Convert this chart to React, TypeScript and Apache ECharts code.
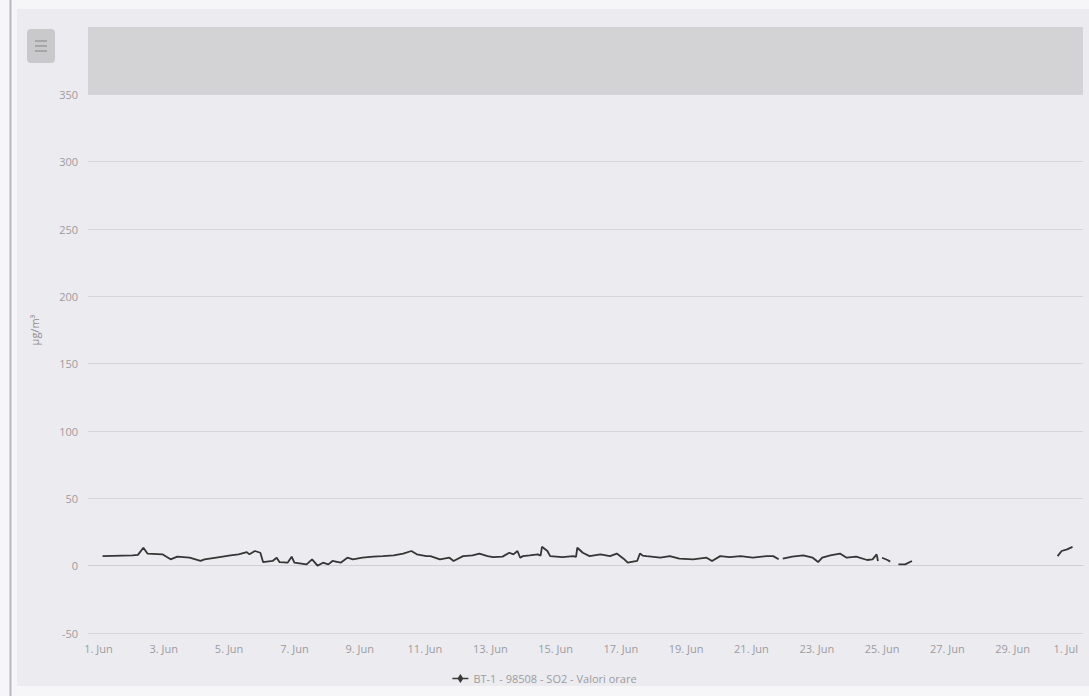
import React, { useEffect, useRef } from 'react';
import * as echarts from 'echarts';

const START = new Date(2020, 5, 1).getTime();
const HOUR = 3600000;
const MONTHS = ['Jan', 'Feb', 'Mar', 'Apr', 'May', 'Jun', 'Jul', 'Aug', 'Sep', 'Oct', 'Nov', 'Dec'];

const seriesName = 'BT-1 - 98508 - SO2 - Valori orare';
const yAxisTitle = 'µg/m³';

// [hours since 1 Jun 00:00, µg/m³] ; null = missing measurement (gap)
const so2Readings: [number, number | null][] = [
  [3, 7.1], [25, 7.6], [29, 8], [33, 13.3], [36, 9], [47, 8.4], [53, 4.7], [58, 6.7],
  [67, 5.9], [75, 3.5], [78, 4.7], [89, 6.4], [97, 7.6], [103, 8.4], [109, 10.1], [111, 8.4],
  [115, 10.9], [119, 9.6], [121, 2.7], [128, 3.5], [131, 5.9], [133, 2.7], [139, 2.2], [142, 6.7],
  [144, 2.2], [153, 1], [157, 4.7], [161, 0], [165, 2.2], [169, 1], [172, 3.5], [178, 2.2],
  [183, 5.9], [187, 4.7], [194, 5.9], [202, 6.7], [209, 7.1], [217, 7.6], [224, 8.9], [230, 10.9],
  [234, 8.4], [241, 7.1], [244, 7.1], [251, 4.7], [258, 5.9], [261, 3.5], [268, 7.1], [275, 7.6],
  [280, 9], [286, 7.1], [290, 6.4], [297, 6.7], [302, 9.6], [305, 8.4], [308, 10.9], [310, 5.9],
  [312, 7.1], [317, 7.6], [323, 8.4], [325, 7.4], [326, 14], [330, 10.9], [332, 7.1], [341, 6.4],
  [349, 7.1], [351, 6.5], [352, 13.3], [356, 9.6], [361, 7.1], [369, 8.4], [376, 7.1], [381, 9],
  [386, 5.2], [389, 2.2], [396, 3.5], [398, 9], [400, 7.5], [403, 7.1], [413, 5.9], [420, 7.1],
  [427, 5.2], [437, 4.7], [447, 5.9], [451, 3.5], [457, 7.1], [464, 6.4], [472, 7.1], [481, 5.9],
  [491, 7.1], [496, 7.1], [500, 4.7], [501, null], [503, 5.2], [510, 6.7], [518, 7.6], [525, 5.9],
  [529, 2.7], [532, 5.9], [538, 7.6], [545, 9], [550, 5.9], [557, 6.7], [565, 4.2], [569, 4.7],
  [572, 8.4], [573, 3.5], [574, null], [576, 5.9], [580, 4.2], [582, 3], [583, null], [588, 1],
  [593, 1], [598, 3.5], [599, null], [705, 7.1], [708, 10.9], [712, 12.1], [716, 14],
];

// tick positions in hours since 1 Jun 00:00 (every 2 days, 1 Jun .. 1 Jul)
const xTickHours = [0, 48, 96, 144, 192, 240, 288, 336, 384, 432, 480, 528, 576, 624, 672, 720];
const xMinHours = -7.7;
const xMaxHours = 723.7;
const yMin = -50;
const yMax = 400;
const yStep = 50;
const bandFrom = 350;
const bandTo = 400;

export default function App() {
  const ref = useRef<HTMLDivElement>(null);
  useEffect(() => {
    if (!ref.current) return;
    const chart = echarts.init(ref.current, null, { renderer: 'svg' });
    const data = so2Readings.map(([h, v]) => [h, v === null ? '-' : v]);
    const font = "'Open Sans', 'DejaVu Sans', sans-serif";
    chart.setOption({
      animation: false,
      backgroundColor: '#f6f6f9',
      graphic: [
        { type: 'rect', shape: { x: 17, y: 9, width: 1072, height: 677 }, style: { fill: '#ecebf0' }, z: -10 },
        { type: 'line', shape: { x1: 10.5, y1: 0, x2: 10.5, y2: 696 }, style: { stroke: '#b8b8bc', lineWidth: 2 }, z: -9 },
        { type: 'rect', shape: { x: 27, y: 29, width: 28, height: 34, r: 4 }, style: { fill: '#c9c9cc' }, z: 5 },
        { type: 'line', shape: { x1: 35, y1: 41, x2: 47, y2: 41 }, style: { stroke: '#9a9a9e', lineWidth: 1.5 }, z: 6 },
        { type: 'line', shape: { x1: 35, y1: 46, x2: 47, y2: 46 }, style: { stroke: '#9a9a9e', lineWidth: 1.5 }, z: 6 },
        { type: 'line', shape: { x1: 35, y1: 51, x2: 47, y2: 51 }, style: { stroke: '#9a9a9e', lineWidth: 1.5 }, z: 6 },
      ],
      grid: { left: 88, right: 6, top: 27, bottom: 63, containLabel: false },
      legend: {
        bottom: 7,
        left: 'center',
        itemWidth: 16,
        itemHeight: 9,
        itemGap: 10,
        icon: 'path://M0,4.2 L5.5,4.2 L8,0.5 L10.5,4.2 L16,4.2 L16,5.8 L10.5,5.8 L8,9.5 L5.5,5.8 L0,5.8 Z',
        textStyle: { color: '#9c9ca0', fontSize: 11, fontFamily: font },
        data: [{ name: seriesName, itemStyle: { color: '#3a3a3a' } }],
      },
      xAxis: {
        type: 'value',
        min: xMinHours,
        max: xMaxHours,
        axisLine: { show: true, lineStyle: { color: '#d0d0d4' } },
        axisTick: { show: false },
        splitLine: { show: false },
        axisLabel: {
          customValues: xTickHours,
          showMinLabel: true,
          showMaxLabel: true,
          alignMaxLabel: 'right',
          color: '#9c9ca0',
          fontSize: 11,
          fontFamily: font,
          margin: 10,
          hideOverlap: false,
          formatter: (val: number) => {
            const d = new Date(START + val * HOUR);
            return `${d.getDate()}. ${MONTHS[d.getMonth()]}`;
          },
        },
      },
      yAxis: {
        type: 'value',
        min: yMin,
        max: yMax,
        interval: yStep,
        name: yAxisTitle,
        nameLocation: 'middle',
        nameGap: 48,
        nameRotate: 90,
        nameTextStyle: { color: '#8e8e92', fontSize: 11, fontFamily: font },
        axisLine: { show: false },
        axisTick: { show: false },
        splitLine: { show: true, lineStyle: { color: '#d6d6da', width: 1 } },
        axisLabel: {
          color: '#9c9ca0',
          fontSize: 11,
          fontFamily: font,
          margin: 10,
          formatter: (v: number) => (v === yMax ? '' : String(v)),
        },
      },
      series: [
        {
          name: seriesName,
          type: 'line',
          data,
          showSymbol: false,
          symbol: 'none',
          connectNulls: false,
          lineStyle: { color: '#353535', width: 1.8 },
          itemStyle: { color: '#353535' },
          markArea: {
            silent: true,
            itemStyle: { color: '#d3d3d6' },
            data: [[{ yAxis: bandFrom }, { yAxis: bandTo }]],
          },
        },
      ],
    });
    return () => chart.dispose();
  }, []);
  return (
    <div
      ref={ref}
      style={{ position: 'fixed', left: 0, top: 0, width: 1089, height: 696 }}
    />
  );
}
